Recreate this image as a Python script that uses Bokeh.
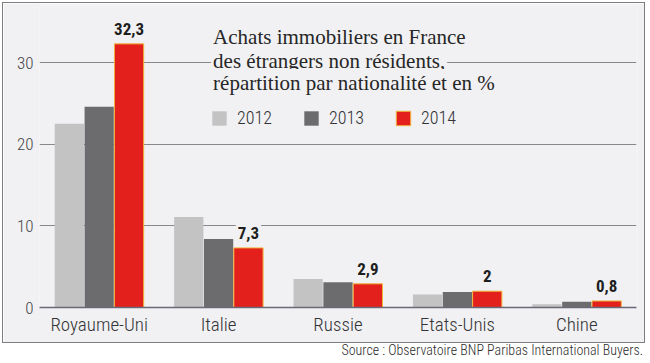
from bokeh.plotting import figure
from bokeh.models import (ColumnDataSource, Legend, LegendItem, Label, FixedTicker,
                          Range1d, FactorRange, Div)
from bokeh.transform import dodge
from bokeh.layouts import column
from bokeh.embed import file_html
from bokeh.resources import INLINE
from bokeh.core.properties import value

# ---------------- data ----------------
countries = ["Royaume-Uni", "Italie", "Russie", "Etats-Unis", "Chine"]
years = ["2012", "2013", "2014"]
v2012 = [22.5, 11.1, 3.5, 1.6, 0.4]
v2013 = [24.6, 8.4, 3.1, 1.9, 0.7]
v2014 = [32.3, 7.3, 2.9, 2.0, 0.8]
y_ticks = [0, 10, 20, 30]
title_lines = ["Achats immobiliers en France",
               "des étrangers non résidents,",
               "répartition par nationalité et en %"]
source_text = "Source : Observatoire BNP Paribas International Buyers."

# ---------------- style ----------------
BG = "#f1f1f3"
C_LIGHT = "#c3c3c4"
C_DARK = "#6c6c6f"
C_RED = "#e3201b"
SANS = "Roboto Condensed Light, Roboto Condensed, Roboto"
SANS_B = "Roboto Condensed, Roboto"
SERIF = "Liberation Serif"

labels_2014 = [("%g" % v).replace(".", ",") for v in v2014]
src = ColumnDataSource(dict(country=countries, v2012=v2012, v2013=v2013,
                            v2014=v2014, lab=labels_2014))

p = figure(width=641, height=339, x_range=FactorRange(factors=countries, range_padding=0),
           y_range=Range1d(0, 37), output_backend="svg", toolbar_location=None,
           min_border_left=36, min_border_right=10, min_border_top=2, min_border_bottom=37)
p.background_fill_color = BG
p.border_fill_color = BG
p.outline_line_color = None
p.styles = {"border": "1px solid #7d7d80", "box-sizing": "content-box"}

r1 = p.vbar(x=dodge("country", -0.25, range=p.x_range), top="v2012", width=0.245,
            source=src, fill_color=C_LIGHT, line_color=None)
r2 = p.vbar(x=dodge("country", 0.0, range=p.x_range), top="v2013", width=0.245,
            source=src, fill_color=C_DARK, line_color=None)
r3 = p.vbar(x=dodge("country", 0.25, range=p.x_range), top="v2014", width=0.245,
            source=src, fill_color=C_RED, line_color="#f0b43a", line_width=1)

p.text(x=dodge("country", 0.25, range=p.x_range), y="v2014", text="lab", source=src,
       text_align="center", text_baseline="alphabetic", y_offset=-15,
       text_font=value(SANS_B), text_font_style="bold", text_font_size="17px",
       text_color="#1e1e1e", background_fill_color=BG, padding=2)

# axes
p.xaxis.axis_line_color = "#6a6878"
p.xaxis.axis_line_width = 1.5
p.xaxis.major_tick_line_color = None
p.xaxis.minor_tick_line_color = None
p.xaxis.major_tick_out = 0
p.xaxis.major_label_standoff = 5
p.xaxis.major_label_text_font = SANS
p.xaxis.major_label_text_font_size = "19px"
p.xaxis.major_label_text_color = "#333336"
p.xgrid.grid_line_color = None

p.yaxis.ticker = FixedTicker(ticks=y_ticks)
p.yaxis.axis_line_color = None
p.yaxis.major_tick_line_color = None
p.yaxis.minor_tick_line_color = None
p.yaxis.major_tick_out = 0
p.yaxis.major_label_standoff = 6
p.yaxis.major_label_text_font = SANS
p.yaxis.major_label_text_font_size = "17px"
p.yaxis.major_label_text_color = "#444447"
p.ygrid.ticker = FixedTicker(ticks=y_ticks[1:])
p.ygrid.grid_line_color = "#88888c"
p.ygrid.grid_line_width = 1

# title (three lines with background to interrupt grid line)
for txt, yy in zip(title_lines, [33.1, 30.25, 27.5]):
    p.add_layout(Label(x=1.437, y=yy, text=txt, text_font=SERIF, text_font_size="21px",
                       text_color="#262626", text_baseline="alphabetic",
                       background_fill_color=BG, padding=2))

legend = Legend(items=[LegendItem(label=years[0], renderers=[r1]),
                       LegendItem(label=years[1], renderers=[r2]),
                       LegendItem(label=years[2], renderers=[r3])],
                orientation="horizontal", location=(171, 179),
                glyph_width=18, glyph_height=18, label_height=18,
                label_standoff=9, spacing=30, padding=0, margin=0,
                border_line_color=None, background_fill_alpha=0,
                label_text_font=SANS, label_text_font_size="18px",
                label_text_color="#333336")
p.add_layout(legend)

# source line
s = Div(text=source_text, width=641, height=16,
        styles={"font-family": SANS, "font-size": "14px", "color": "#2c2c2c",
                "text-align": "right", "line-height": "14px", "white-space": "nowrap",
                "margin": "0px", "padding": "0px"})

layout = column(p, s, spacing=0)
layout.styles = {"margin": "2px 0px 0px 2px"}

open("out.html", "w").write(file_html(layout, INLINE))
